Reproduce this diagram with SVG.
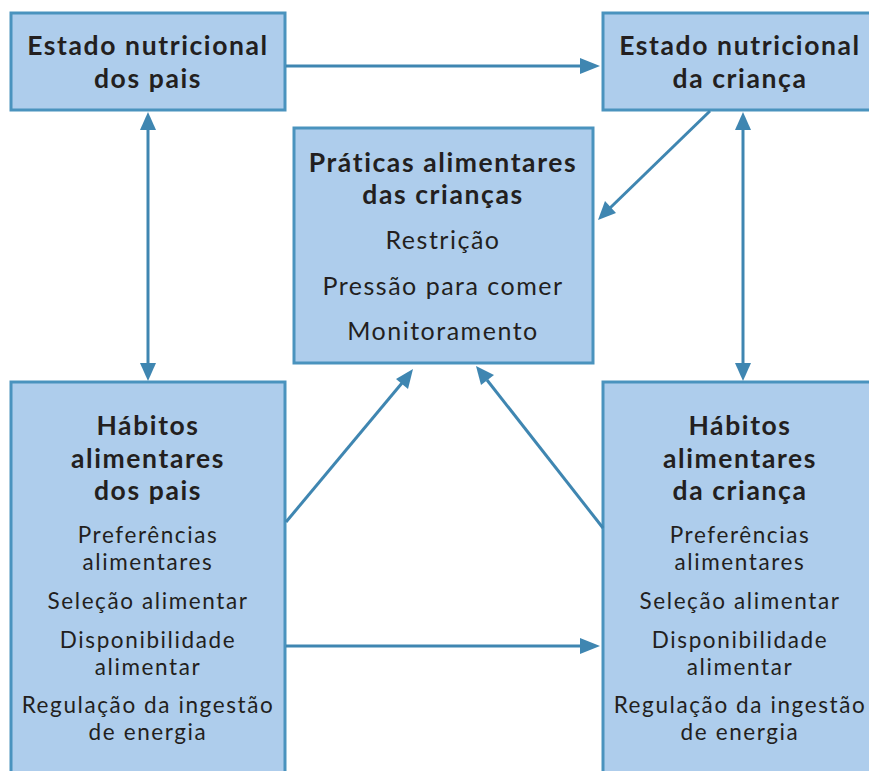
<svg xmlns="http://www.w3.org/2000/svg" width="869" height="771" viewBox="0 0 869 771">
<style>
.box{fill:#aecdec;stroke:#4a93be;stroke-width:3}
.h{font-family:Lato,"Open Sans",sans-serif;font-weight:bold;font-size:26.5px;letter-spacing:1.6px;fill:#231f20;text-anchor:middle}
.t{font-family:Lato,"Open Sans",sans-serif;font-size:25px;letter-spacing:1.5px;fill:#231f20;text-anchor:middle}
.s{font-family:Lato,"Open Sans",sans-serif;font-size:22.5px;letter-spacing:1.6px;fill:#231f20;text-anchor:middle}
.c{stroke:#3f86b1;stroke-width:3;fill:none}
.ah{fill:#3f86b1}
</style>
<rect width="869" height="771" fill="#fff"/>
<g id="estado-pais">
<rect class="box" x="11" y="13" width="274" height="97"/>
<text class="h" x="148" y="55">Estado nutricional</text>
<text class="h" x="148" y="88">dos pais</text>
</g>
<g id="estado-crianca">
<rect class="box" x="603" y="13" width="280" height="97"/>
<text class="h" x="740" y="55">Estado nutricional</text>
<text class="h" x="740" y="88">da criança</text>
</g>
<g id="praticas">
<rect class="box" x="294" y="128" width="299" height="235"/>
<text class="h" x="443" y="172">Práticas alimentares</text>
<text class="h" x="443" y="204">das crianças</text>
<text class="t" x="443" y="249">Restrição</text>
<text class="t" x="443" y="295">Pressão para comer</text>
<text class="t" x="443" y="340">Monitoramento</text>
</g>
<g id="habitos-pais">
<rect class="box" x="11" y="382" width="274" height="400"/>
<text class="h" x="148" y="435">Hábitos</text>
<text class="h" x="148" y="468">alimentares</text>
<text class="h" x="148" y="500">dos pais</text>
<text class="s" x="148" y="543">Preferências</text>
<text class="s" x="148" y="570">alimentares</text>
<text class="s" x="148" y="609">Seleção alimentar</text>
<text class="s" x="148" y="648">Disponibilidade</text>
<text class="s" x="148" y="675">alimentar</text>
<text class="s" x="148" y="713">Regulação da ingestão</text>
<text class="s" x="148" y="740">de energia</text>
</g>
<g id="habitos-crianca">
<rect class="box" x="603" y="382" width="280" height="400"/>
<text class="h" x="740" y="435">Hábitos</text>
<text class="h" x="740" y="468">alimentares</text>
<text class="h" x="740" y="500">da criança</text>
<text class="s" x="740" y="543">Preferências</text>
<text class="s" x="740" y="570">alimentares</text>
<text class="s" x="740" y="609">Seleção alimentar</text>
<text class="s" x="740" y="648">Disponibilidade</text>
<text class="s" x="740" y="675">alimentar</text>
<text class="s" x="740" y="713">Regulação da ingestão</text>
<text class="s" x="740" y="740">de energia</text>
</g>
<g id="connectors">
<line class="c" x1="286" y1="66" x2="584" y2="66"/>
<path class="ah" d="M600,66 L580,58 L580,74 z"/>
<line class="c" x1="286" y1="646" x2="584" y2="646"/>
<path class="ah" d="M600,646 L580,638 L580,654 z"/>
<line class="c" x1="148" y1="128" x2="148" y2="364"/>
<path class="ah" d="M148,112 L140,130 L156,130 z"/>
<path class="ah" d="M148,381 L140,363 L156,363 z"/>
<line class="c" x1="743" y1="128" x2="743" y2="364"/>
<path class="ah" d="M743,112 L735,130 L751,130 z"/>
<path class="ah" d="M743,381 L735,363 L751,363 z"/>
<line class="c" x1="710" y1="111" x2="610" y2="208"/>
<path class="ah" d="M598,220 L605,201 L616,213 z"/>
<line class="c" x1="286" y1="522" x2="402" y2="383"/>
<path class="ah" d="M413,369 L408,389 L396,379 z"/>
<line class="c" x1="603" y1="528" x2="487" y2="380"/>
<path class="ah" d="M476,366 L494,375 L481,385 z"/>
</g>
</svg>
